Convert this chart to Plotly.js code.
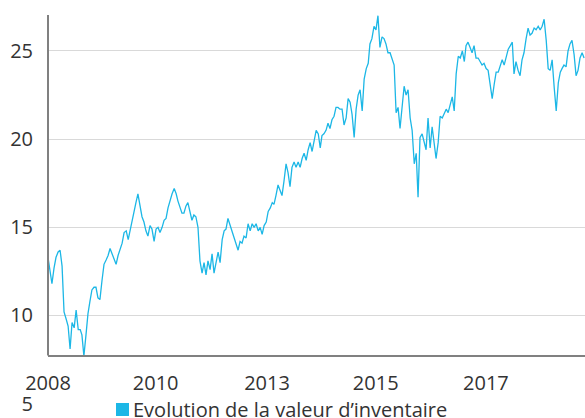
<!DOCTYPE html>
<html>
<head>
<meta charset="utf-8">
<script src="https://cdn.plot.ly/plotly-3.0.1.min.js"></script>
<style>html,body{margin:0;padding:0;background:#fff;}#chart{width:585px;height:418px;}</style>
</head>
<body>
<div id="chart"></div>
<script>
// Semi-monthly observations starting 16 June 2008
const startYear = 2008, startMonth = 5; // June (0-based)
const values = [
13.3,12.5,11.8,12.7,13.3,13.6,13.7,12.8,10.2,9.8,9.4,8.1,9.6,9.3,10.3,9.2,9.2,8.9,7.7,8.9,
10.1,10.8,11.45,11.6,11.6,11.0,10.9,12.0,12.9,13.15,13.4,13.8,13.5,13.1,12.9,13.4,13.7,14.1,14.7,14.8,
14.3,14.8,15.2,15.8,16.4,16.9,16.2,
15.6,15.3,14.8,14.5,15.1,14.9,14.2,14.9,15.0,14.7,15.0,15.4,15.5,16.1,16.6,16.9,17.2,16.9,16.5,16.1,
15.8,15.8,16.2,16.4,15.9,15.4,15.7,15.6,15.0,13.1,12.4,13.0,12.3,13.1,12.6,13.5,12.4,12.9,13.6,13.0,
14.3,14.8,14.9,15.5,
15.1,14.7,14.4,14.0,13.7,14.2,14.1,14.5,14.4,15.2,14.8,15.2,15.0,15.2,14.8,15.0,14.6,15.1,15.3,15.9,
16.1,16.4,16.3,16.8,17.4,17.1,16.8,17.6,18.6,18.1,17.3,18.4,18.7,18.4,18.7,18.4,18.9,19.2,18.8,19.4,
19.8,19.3,19.9,20.5,
20.3,19.5,20.2,20.3,20.5,20.9,20.6,21.1,21.3,21.8,21.8,21.7,21.7,20.8,21.2,22.3,22.1,21.4,20.1,21.7,
22.5,22.8,21.6,23.4,24.0,24.3,25.4,25.7,26.4,26.2,27.0,25.2,25.8,25.7,25.4,24.9,24.9,24.6,24.2,21.5,
21.8,20.6,21.8,23.0,22.5,22.8,21.2,
20.5,18.6,19.2,16.7,20.1,20.3,19.9,19.4,21.2,19.5,20.7,19.9,18.9,19.8,21.3,21.2,21.5,21.7,21.5,21.9,
22.4,21.6,23.7,24.7,24.6,25.0,24.4,25.3,25.5,25.2,24.9,25.3,24.6,24.6,24.4,24.2,24.3,24.0,23.9,23.1,
22.3,23.1,23.8,23.8,24.2,
24.5,24.2,24.6,25.1,25.3,25.5,23.7,24.4,23.9,23.6,24.5,24.9,25.7,26.3,25.9,26.0,26.3,26.2,26.4,26.2,
26.4,26.8,25.6,24.0,23.9,24.5,22.9,21.6,23.2,23.8,24.0,24.2,24.1,25.0,25.4,25.6,24.8,23.6,23.9,24.6,
24.9,24.6
];
const tickDates = ['2008-06-16','2010-09-13','2013-01-07','2015-04-14','2017-07-30'];
const tickLabels = ['2008','2010','2013','2015','2017'];
const yTicks = [5,10,15,20,25];
const seriesName = "Evolution de la valeur d\u2019inventaire";

function pad(n){return (n<10?'0':'')+n;}
const dates = values.map((v,i)=>{
  const k = i+1;
  const m = startMonth + Math.floor(k/2);
  const y = startYear + Math.floor(m/12);
  const mm = m%12 + 1;
  const d = (k%2===0) ? 1 : 16;
  return y+'-'+pad(mm)+'-'+pad(d);
});

const color = '#1cb7e6';
const font = {family:'"Open Sans", sans-serif', size:20, color:'#333333'};
const yMin = 4.98, yMax = 27.04, xAxisAt = 7.73;

const data = [
  {x:dates, y:values, type:'scatter', mode:'lines', line:{color:color, width:1.3}, name:seriesName, showlegend:false, hoverinfo:'x+y'}
];
const layout = {
  width:585, height:418,
  margin:{l:48, r:0, t:15, b:14},
  paper_bgcolor:'#fff', plot_bgcolor:'#fff',
  font:font,
  showlegend:false,
  xaxis:{type:'date', range:['2008-06-16','2019-08-23'], tickmode:'array', tickvals:tickDates, ticktext:tickLabels,
    showgrid:false, zeroline:false, showline:true, linecolor:'#808080', linewidth:2,
    anchor:'free', position:(xAxisAt-yMin)/(yMax-yMin), ticks:'', ticklabelstandoff:9, tickfont:font},
  yaxis:{range:[yMin,yMax], tickmode:'array', tickvals:yTicks, showgrid:true, gridcolor:'#d9d9d9', gridwidth:1,
    zeroline:false, showline:false, ticks:'', ticklabelstandoff:14, tickfont:font},
  shapes:[
    {type:'line', xref:'paper', yref:'y', x0:0, x1:0, y0:xAxisAt, y1:yMax, line:{color:'#808080', width:2}},
    // legend key square
    {type:'rect', xref:'paper', yref:'paper', x0:0.1266, x1:0.1508, y0:-0.0308, y1:0.0026, line:{width:0}, fillcolor:color}
  ],
  annotations:[
    {xref:'paper', yref:'paper', x:0.1546, y:-0.0154, xanchor:'left', yanchor:'middle', showarrow:false,
     text:seriesName, font:font}
  ]
};
Plotly.newPlot('chart', data, layout, {staticPlot:true, displayModeBar:false});
</script>
</body>
</html>
